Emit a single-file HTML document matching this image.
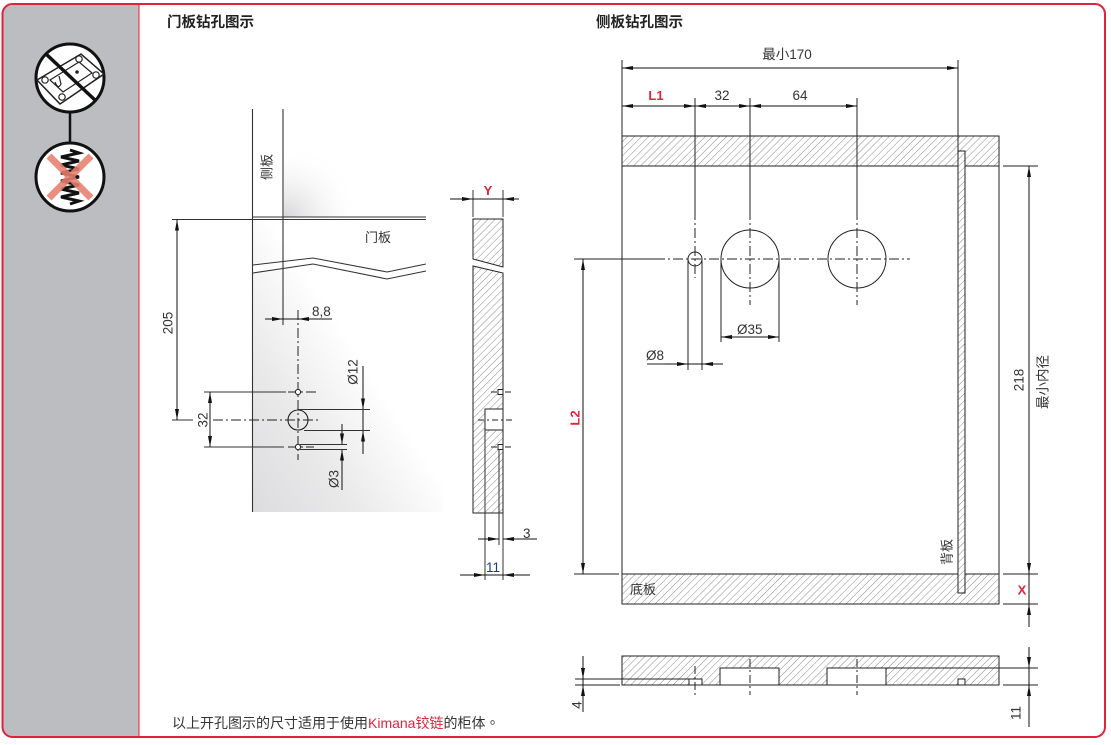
<!DOCTYPE html>
<html><head><meta charset="utf-8">
<style>
html,body{margin:0;padding:0;background:#fff;}
svg{display:block;}
text{font-family:"Liberation Sans","Noto Sans CJK SC",sans-serif;fill:#333;}
.t{font-size:13.5px;}
.r{fill:#e2233e;font-weight:bold;}
.cn{font-family:"Liberation Sans","Noto Sans CJK SC",sans-serif;}
</style></head>
<body>
<svg width="1111" height="745" viewBox="0 0 1111 745" xmlns="http://www.w3.org/2000/svg">
<defs>
  <marker id="ar" viewBox="0 0 11 4" refX="11" refY="2" markerWidth="11" markerHeight="4" markerUnits="userSpaceOnUse" orient="auto-start-reverse">
    <path d="M0,0 L11,2 L0,4 z" fill="#111"/>
  </marker>
  <pattern id="h" patternUnits="userSpaceOnUse" width="5" height="5" patternTransform="rotate(45)">
    <rect width="5" height="5" fill="#fff"/>
    <line x1="0" y1="0" x2="0" y2="5" stroke="#8a8a8a" stroke-width="1"/>
  </pattern>
  <linearGradient id="dg" x1="0" y1="1" x2="1" y2="0">
    <stop offset="0" stop-color="#dcdcde"/>
    <stop offset="0.28" stop-color="#eaeaeb"/>
    <stop offset="0.55" stop-color="#ffffff"/>
  </linearGradient>
  <radialGradient id="sh" cx="286" cy="218" r="75" gradientUnits="userSpaceOnUse">
    <stop offset="0" stop-color="#d6d6d8" stop-opacity="1"/>
    <stop offset="1" stop-color="#ffffff" stop-opacity="0"/>
  </radialGradient>
</defs>

<!-- frame -->
<path d="M139,5 H13 Q3,5 3,15 V727 Q3,737 13,737 H139 Z" fill="#bcbdc0"/>
<rect x="2.5" y="4" width="1102.5" height="733" rx="10" ry="10" fill="none" stroke="#e0223c" stroke-width="2"/>
<line x1="139" y1="5" x2="139" y2="737" stroke="#e0223c" stroke-width="1"/>

<!-- icons -->
<line x1="70" y1="110" x2="70" y2="145" stroke="#111" stroke-width="2.5"/>
<circle cx="70" cy="78" r="34" fill="#fff" stroke="#111" stroke-width="3"/>
<polygon points="37,80 81,54 104,74 60,104" fill="#fff" stroke="#222" stroke-width="1.5"/>
<polygon points="50,80 79,62 92,73 63,92" fill="none" stroke="#222" stroke-width="1.2"/>
<circle cx="45" cy="80" r="3.2" fill="none" stroke="#222" stroke-width="1.2"/>
<circle cx="79" cy="59" r="3.2" fill="none" stroke="#222" stroke-width="1.2"/>
<circle cx="96" cy="75" r="3.2" fill="none" stroke="#222" stroke-width="1.2"/>
<circle cx="62" cy="97" r="3.2" fill="none" stroke="#222" stroke-width="1.2"/>
<circle cx="77" cy="72" r="1.8" fill="#222"/>
<path d="M55,82 q3,8 6,2 l-2,-8" fill="none" stroke="#222" stroke-width="1.2"/>
<line x1="46" y1="54" x2="96" y2="101" stroke="#111" stroke-width="3.5"/>

<circle cx="70" cy="177" r="34" fill="#fff" stroke="#111" stroke-width="3"/>
<polyline points="70,150 79,153 61,157 79,161 61,165 79,169 61,173 79,177 61,181 79,185 61,189 79,193 61,197 79,201 70,204" fill="none" stroke="#111" stroke-width="3"/>
<g stroke="#e8806e" stroke-width="7" opacity="0.88">
  <line x1="49" y1="156" x2="91" y2="198"/>
  <line x1="91" y1="156" x2="49" y2="198"/>
</g>

<!-- titles -->
<text x="167" y="27" class="cn" style="font-size:14.5px;font-weight:bold;fill:#222">门板钻孔图示</text>
<text x="596" y="27" class="cn" style="font-size:14.5px;font-weight:bold;fill:#222">侧板钻孔图示</text>

<!-- ============ door diagram ============ -->
<rect x="284" y="150" width="80" height="67" fill="url(#sh)"/>
<rect x="253" y="219" width="190" height="293" fill="url(#dg)"/>
<polygon points="253,265 313,258 387,272 426,264 426,271 387,279 313,264 253,273" fill="#fff"/>
<g stroke="#333" stroke-width="1.1" fill="none">
  <polyline points="253,265 313,258 387,272 426,264"/>
  <polyline points="253,273 313,264 387,279 426,271"/>
  <line x1="252.5" y1="109" x2="252.5" y2="512"/>
  <line x1="283" y1="109" x2="283" y2="325"/>
  <line x1="253" y1="217" x2="426" y2="217"/>
  <line x1="253" y1="219.5" x2="426" y2="219.5"/>
  <line x1="172" y1="219.5" x2="252" y2="219.5"/>
  <line x1="172" y1="420" x2="193" y2="420"/>
  <line x1="204" y1="392" x2="286" y2="392"/>
  <line x1="204" y1="447" x2="284" y2="447"/>
</g>
<g stroke="#111" stroke-width="1" fill="none">
  <line x1="177" y1="219.5" x2="177" y2="420" marker-start="url(#ar)" marker-end="url(#ar)"/>
  <line x1="210" y1="392" x2="210" y2="447" marker-start="url(#ar)" marker-end="url(#ar)"/>
  <line x1="265" y1="319" x2="283" y2="319" marker-end="url(#ar)"/>
  <line x1="332" y1="319" x2="298" y2="319" marker-end="url(#ar)"/>
  <line x1="283" y1="319" x2="298" y2="319"/>
  <line x1="363" y1="366" x2="363" y2="409.5" marker-end="url(#ar)"/>
  <line x1="363" y1="454" x2="363" y2="430.5" marker-end="url(#ar)"/>
  <line x1="363" y1="409" x2="363" y2="431"/>
  <line x1="342" y1="424" x2="342" y2="444.5" marker-end="url(#ar)"/>
  <line x1="342" y1="490" x2="342" y2="449.5" marker-end="url(#ar)"/>
</g>
<g stroke="#333" stroke-width="0.9" fill="none">
  <line x1="298" y1="409.5" x2="370" y2="409.5"/>
  <line x1="304" y1="430.5" x2="370" y2="430.5"/>
  <line x1="300" y1="444.5" x2="347" y2="444.5"/>
  <line x1="300" y1="449.5" x2="347" y2="449.5"/>
</g>
<g stroke="#222" stroke-width="1" fill="none" stroke-dasharray="10 3 2 3">
  <line x1="298" y1="310" x2="298" y2="460"/>
  <line x1="213" y1="420" x2="320" y2="420"/>
  <line x1="288" y1="392" x2="316" y2="392"/>
  <line x1="288" y1="447" x2="314" y2="447"/>
</g>
<circle cx="298" cy="420" r="10" fill="none" stroke="#222" stroke-width="1.1"/>
<circle cx="298" cy="392" r="2.6" fill="#fff" stroke="#222" stroke-width="1"/>
<circle cx="298" cy="447" r="2.6" fill="#fff" stroke="#222" stroke-width="1"/>

<text class="cn" x="267" y="167" style="font-size:13px" transform="rotate(-90 267 167)" text-anchor="middle" dominant-baseline="central">侧板</text>
<text class="cn" x="365" y="242" style="font-size:13px">门板</text>
<text class="t" x="168" y="323" transform="rotate(-90 168 323)" text-anchor="middle" dominant-baseline="central">205</text>
<text class="t" x="203" y="420" transform="rotate(-90 203 420)" text-anchor="middle" dominant-baseline="central">32</text>
<text class="t" x="312" y="316">8,8</text>
<text class="t" x="353" y="372" transform="rotate(-90 353 372)" text-anchor="middle" dominant-baseline="central">Ø12</text>
<text class="t" x="334" y="479" transform="rotate(-90 334 479)" text-anchor="middle" dominant-baseline="central">Ø3</text>

<!-- ============ door profile ============ -->
<polygon points="473,219 503,219 503,267 473,259" fill="url(#h)" stroke="#222" stroke-width="1"/>
<polygon points="473,266 503,273 503,513 473,513" fill="url(#h)" stroke="#222" stroke-width="1"/>
<rect x="485" y="409" width="18" height="21" fill="#fff" stroke="#222" stroke-width="1"/>
<g stroke="#222" stroke-width="1" fill="none" stroke-dasharray="6 3 2 3">
  <line x1="478" y1="420" x2="512" y2="420"/>
  <line x1="491" y1="392" x2="512" y2="392"/>
  <line x1="491" y1="447" x2="512" y2="447"/>
</g>
<rect x="498" y="389.5" width="5" height="5" fill="#fff" stroke="#222" stroke-width="1"/>
<rect x="498" y="444.5" width="5" height="5" fill="#fff" stroke="#222" stroke-width="1"/>
<g stroke="#333" stroke-width="1" fill="none">
  <line x1="473" y1="190" x2="473" y2="217"/>
  <line x1="503" y1="190" x2="503" y2="217"/>
  <line x1="485" y1="430" x2="485" y2="580"/>
  <line x1="499" y1="450" x2="499" y2="545"/>
  <line x1="503" y1="513" x2="503" y2="580"/>
</g>
<g stroke="#111" stroke-width="1" fill="none">
  <line x1="450" y1="199" x2="473" y2="199" marker-end="url(#ar)"/>
  <line x1="519" y1="199" x2="503" y2="199" marker-end="url(#ar)"/>
  <line x1="473" y1="199" x2="503" y2="199"/>
  <line x1="478" y1="539" x2="499" y2="539" marker-end="url(#ar)"/>
  <line x1="537" y1="539" x2="503" y2="539" marker-end="url(#ar)"/>
  <line x1="460" y1="575" x2="485" y2="575" marker-end="url(#ar)"/>
  <line x1="530" y1="575" x2="503" y2="575" marker-end="url(#ar)"/>
  <line x1="485" y1="575" x2="503" y2="575"/>
</g>
<text x="488" y="195" class="r" style="font-size:13px" text-anchor="middle">Y</text>
<text class="t" x="523" y="538">3</text>
<text class="t" x="486" y="572" style="fill:#1f3a78">11</text>

<!-- ============ side panel ============ -->
<rect x="622" y="136" width="377" height="30" fill="url(#h)" stroke="#222" stroke-width="1"/>
<rect x="622" y="574" width="377" height="30" fill="url(#h)" stroke="#222" stroke-width="1"/>
<g stroke="#222" stroke-width="1" fill="none">
  <line x1="622" y1="60" x2="622" y2="604"/>
  <line x1="999" y1="136" x2="999" y2="604"/>
  <line x1="958" y1="60" x2="958" y2="151"/>
  <line x1="695" y1="98" x2="695" y2="210"/>
  <line x1="750" y1="98" x2="750" y2="210"/>
  <line x1="857" y1="98" x2="857" y2="210"/>
  <line x1="574" y1="259" x2="655" y2="259"/>
  <line x1="688" y1="259" x2="688" y2="370"/>
  <line x1="702" y1="259" x2="702" y2="370"/>
  <line x1="721" y1="259" x2="721" y2="342"/>
  <line x1="779" y1="259" x2="779" y2="342"/>
  <line x1="574" y1="574" x2="619" y2="574"/>
  <line x1="1003" y1="166" x2="1038" y2="166"/>
  <line x1="1003" y1="574" x2="1038" y2="574"/>
  <line x1="1003" y1="604" x2="1038" y2="604"/>
  <line x1="647" y1="364" x2="688" y2="364"/>
</g>
<rect x="958" y="151" width="7" height="442" fill="url(#h)" stroke="#222" stroke-width="1"/>
<g stroke="#222" stroke-width="1" fill="none" stroke-dasharray="10 3 2 3">
  <line x1="655" y1="259" x2="910" y2="259"/>
  <line x1="695" y1="210" x2="695" y2="278"/>
  <line x1="750" y1="210" x2="750" y2="305"/>
  <line x1="857" y1="210" x2="857" y2="305"/>
</g>
<circle cx="695" cy="259" r="7" fill="none" stroke="#222" stroke-width="1"/>
<circle cx="750" cy="259" r="29" fill="none" stroke="#222" stroke-width="1"/>
<circle cx="857" cy="259" r="29" fill="none" stroke="#222" stroke-width="1"/>
<g stroke="#111" stroke-width="1" fill="none">
  <line x1="622" y1="68" x2="958" y2="68" marker-start="url(#ar)" marker-end="url(#ar)"/>
  <line x1="622" y1="106" x2="695" y2="106" marker-start="url(#ar)" marker-end="url(#ar)"/>
  <line x1="695" y1="106" x2="750" y2="106" marker-start="url(#ar)" marker-end="url(#ar)"/>
  <line x1="750" y1="106" x2="857" y2="106" marker-start="url(#ar)" marker-end="url(#ar)"/>
  <line x1="665" y1="364" x2="688" y2="364" marker-end="url(#ar)"/>
  <line x1="723" y1="364" x2="702" y2="364" marker-end="url(#ar)"/>
  <line x1="688" y1="364" x2="702" y2="364"/>
  <line x1="721" y1="337" x2="779" y2="337" marker-start="url(#ar)" marker-end="url(#ar)"/>
  <line x1="583" y1="259" x2="583" y2="574" marker-start="url(#ar)" marker-end="url(#ar)"/>
  <line x1="1029" y1="166" x2="1029" y2="574" marker-start="url(#ar)" marker-end="url(#ar)"/>
  <line x1="1029" y1="574" x2="1029" y2="604"/>
  <line x1="1029" y1="627" x2="1029" y2="604" marker-end="url(#ar)"/>
</g>
<text class="cn t" x="787" y="59" text-anchor="middle">最小170</text>
<text x="656" y="100" class="r" style="font-size:13px" text-anchor="middle">L1</text>
<text class="t" x="722" y="100" text-anchor="middle">32</text>
<text class="t" x="800" y="100" text-anchor="middle">64</text>
<text class="t" x="737" y="334">Ø35</text>
<text class="t" x="646" y="360">Ø8</text>
<text x="575" y="418" class="r" style="font-size:13px" transform="rotate(-90 575 418)" text-anchor="middle" dominant-baseline="central">L2</text>
<text class="t" x="1019" y="380" transform="rotate(-90 1019 380)" text-anchor="middle" dominant-baseline="central">218</text>
<text class="cn t" x="1043" y="382" transform="rotate(-90 1043 382)" text-anchor="middle" dominant-baseline="central">最小内径</text>
<text x="1022" y="590" class="r" style="font-size:13px" text-anchor="middle" dominant-baseline="central">X</text>
<text class="cn" x="947" y="552" style="font-size:13px" transform="rotate(-90 947 552)" text-anchor="middle" dominant-baseline="central">背板</text>
<text class="cn" x="630" y="594" style="font-size:13px">底板</text>

<!-- ============ plan view ============ -->
<rect x="622" y="656" width="377" height="29" fill="url(#h)" stroke="#222" stroke-width="1"/>
<rect x="720" y="668" width="59" height="17" fill="#fff" stroke="#222" stroke-width="1"/>
<rect x="827" y="668" width="59" height="17" fill="#fff" stroke="#222" stroke-width="1"/>
<rect x="689" y="679" width="13" height="6" fill="#fff" stroke="#222" stroke-width="1"/>
<rect x="958" y="679" width="7" height="6" fill="#fff" stroke="#222" stroke-width="1"/>
<g stroke="#222" stroke-width="1" fill="none">
  <line x1="886" y1="668" x2="1038" y2="668"/>
  <line x1="575" y1="679" x2="689" y2="679"/>
  <line x1="575" y1="685" x2="620" y2="685"/>
  <line x1="1003" y1="685" x2="1038" y2="685"/>
</g>
<g stroke="#222" stroke-width="1" fill="none" stroke-dasharray="8 3 2 3">
  <line x1="695" y1="666" x2="695" y2="695"/>
  <line x1="750" y1="659" x2="750" y2="695"/>
  <line x1="857" y1="659" x2="857" y2="695"/>
</g>
<g stroke="#111" stroke-width="1" fill="none">
  <line x1="583" y1="656" x2="583" y2="679" marker-end="url(#ar)"/>
  <line x1="583" y1="712" x2="583" y2="685" marker-end="url(#ar)"/>
  <line x1="583" y1="679" x2="583" y2="685"/>
  <line x1="1029" y1="647" x2="1029" y2="668" marker-end="url(#ar)"/>
  <line x1="1029" y1="727" x2="1029" y2="685" marker-end="url(#ar)"/>
  <line x1="1029" y1="668" x2="1029" y2="685"/>
</g>
<text class="t" x="577" y="705" transform="rotate(-90 577 705)" text-anchor="middle" dominant-baseline="central">4</text>
<text class="t" x="1016" y="713" transform="rotate(-90 1016 713)" text-anchor="middle" dominant-baseline="central">11</text>

<!-- footnote -->
<text x="172" y="728" class="cn" style="font-size:14px;fill:#333">以上开孔图示的尺寸适用于使用<tspan style="fill:#e2233e">Kimana铰链</tspan>的柜体<tspan style="font-family:'Noto Sans CJK TC',sans-serif">。</tspan></text>
</svg>
</body></html>
